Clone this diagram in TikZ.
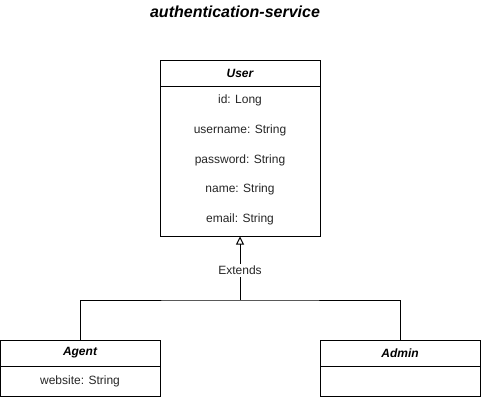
\documentclass[tikz,border=0pt]{standalone}
\usepackage{fontspec}
\setmainfont{Liberation Sans}
\usetikzlibrary{arrows.meta, positioning}

\begin{document}
\begin{tikzpicture}[
    x=0.75pt, y=-0.75pt,
    font=\fontsize{9pt}{11pt}\selectfont,
    line width=0.75pt,
    classhead/.style={draw, fill=white, minimum width=120pt, minimum height=19.5pt, inner sep=0pt, font=\fontsize{9pt}{11pt}\selectfont\bfseries\itshape},
    classbody/.style={draw, fill=white, minimum width=120pt, inner sep=0pt},
    attr/.style={inner sep=1pt, text=black!85},
    extends/.style={-{Triangle[open, length=6pt, width=6pt]}}
]
    \useasboundingbox (0,0) rectangle (481,400);

    % Title
    \node[font=\fontsize{12pt}{14pt}\selectfont\bfseries\itshape] (title) at (235,12) {authentication-service};

    % User class
    \node[classhead] (userhead) at (240,73) {User};
    \node[classbody, minimum height=112.5pt] (userbody) at (240,161) {};
    \node[attr] (uid) at (240,100) {id: Long};
    \node[attr] (uusername) at (240,130) {username: String};
    \node[attr] (upassword) at (240,160) {password: String};
    \node[attr] (uname) at (240,189) {name: String};
    \node[attr] (uemail) at (240,219) {email: String};

    % Agent class
    \node[classhead] (agenthead) at (80,353) {Agent};
    \node[classbody, minimum height=22.5pt] (agentbody) at (80,381) {};
    \node[attr] (awebsite) at (80,381) {website: String};

    % Admin class
    \node[classhead] (adminhead) at (400,353) {Admin};
    \node[classbody, minimum height=22.5pt] (adminbody) at (400,381) {};

    % Inheritance
    \coordinate (join) at (240,300);
    \draw (agenthead.north) |- (join) -| (adminhead.north);
    \draw[extends] (join) -- node[pos=0.47, fill=white, inner sep=1.5pt, text=black!85] (extlabel) {Extends} (userbody.south);

\end{tikzpicture}
\end{document}
